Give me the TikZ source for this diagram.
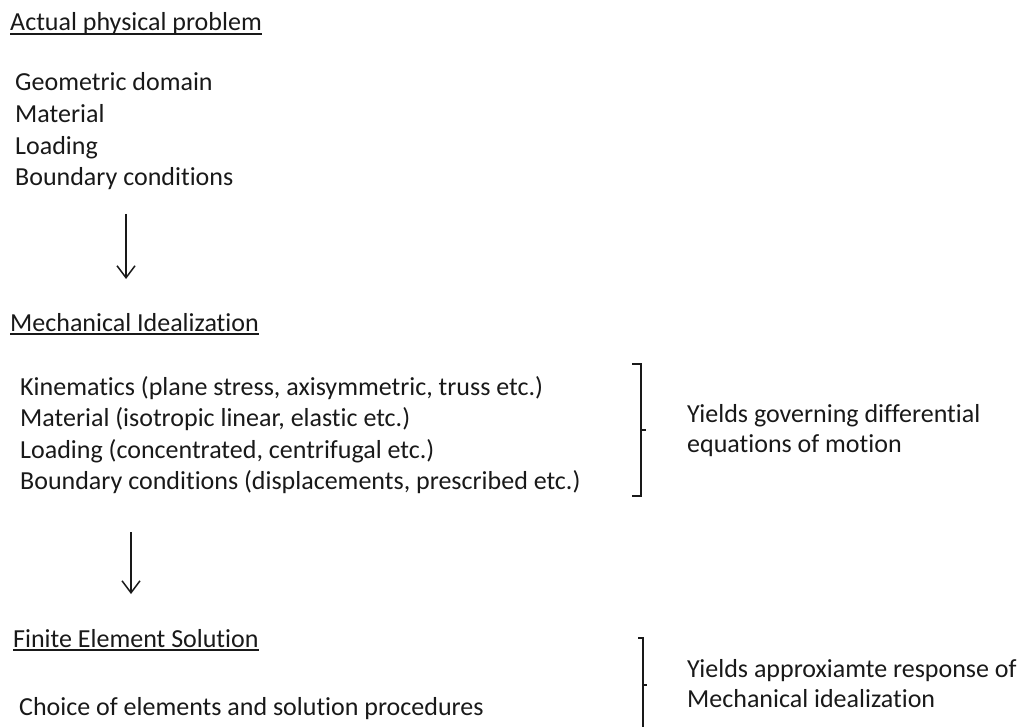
\documentclass[tikz,border=0pt]{standalone}
\usepackage{fontspec}
\setmainfont{Carlito}[Ligatures=NoCommon]
\usetikzlibrary{arrows.meta}

\definecolor{feblack}{RGB}{25,25,25}

\begin{document}
\begin{tikzpicture}[
    x=1pt, y=-1pt,
    every node/.style={font=\fontsize{26}{31.7}\selectfont, text=feblack, inner sep=0pt, anchor=base west},
    uline/.style={feblack, line width=1.5pt},
    flow/.style={feblack, line width=1.5pt, -{Straight Barb[length=12pt, width=18pt, line width=1.5pt]}},
    brace/.style={feblack, line width=1.5pt},
  ]
    \useasboundingbox (0,0) rectangle (1027,727);

    % === Actual physical problem ===
    \node (phys) at (10, 31) {Actual physical problem};
    \draw[uline] ([yshift=-3pt]phys.base west) -- ([yshift=-3pt]phys.base east);
    \foreach \t [count=\i] in {Geometric domain, Material, Loading, Boundary conditions} {
      \node (phys-\i) at (15, {91+(\i-1)*31.6}) {\t};
    }

    \coordinate (arr1-top) at (126, 214);
    \coordinate (arr1-tip) at (126, 279);
    \draw[flow] (arr1-top) -- (arr1-tip);

    % === Mechanical idealization ===
    \node (mech) at (10, 331) {Mechanical Idealization};
    \draw[uline] ([yshift=-3pt]mech.base west) -- ([yshift=-3pt]mech.base east);
    \foreach \t [count=\i] in {{Kinematics (plane stress, axisymmetric, truss etc.)},
                               {Material (isotropic linear, elastic etc.)},
                               {Loading (concentrated, centrifugal etc.)},
                               {Boundary conditions (displacements, prescribed etc.)}} {
      \node (mech-\i) at (20, {395+(\i-1)*31.6}) {\t};
    }

    % bracket + what it gives
    \draw[brace] (632, 364) -- (641, 364) -- (641, 496) -- (632, 496);
    \draw[brace] (641, 430) -- (646, 430);
    \node (yield1) at (687, 422) {Yields governing differential};
    \node (yield1b) at (687, 452) {equations of motion};

    \coordinate (arr2-top) at (131, 532);
    \coordinate (arr2-tip) at (131, 594);
    \draw[flow] (arr2-top) -- (arr2-tip);

    % === Finite element solution ===
    \node (fes) at (13, 647) {Finite Element Solution};
    \draw[uline] ([yshift=-3pt]fes.base west) -- ([yshift=-3pt]fes.base east);
    \node (fes-1) at (19, 715) {Choice of elements and solution procedures};

    \draw[brace] (638, 638) -- (643, 638) -- (643, 727);
    \draw[brace] (643, 685) -- (647, 685);
    \node (yield2) at (687, 677) {Yields approxiamte response of};
    \node (yield2b) at (687, 707) {Mechanical idealization};
  \end{tikzpicture}
\end{document}
